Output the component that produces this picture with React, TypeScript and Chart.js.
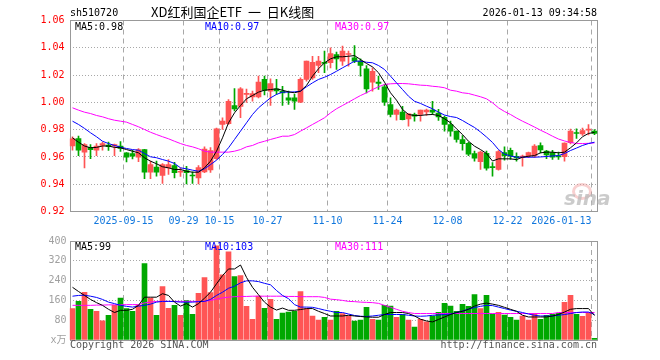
import React, { useEffect, useRef } from 'react';
import { Chart, registerables } from 'chart.js';

Chart.register(...registerables);

// ---------- data ----------
const dates = [
  '2025-09-02','2025-09-03','2025-09-04','2025-09-05','2025-09-08','2025-09-09','2025-09-10','2025-09-11','2025-09-12',
  '2025-09-15','2025-09-16','2025-09-17','2025-09-18','2025-09-19','2025-09-22','2025-09-23','2025-09-24','2025-09-25',
  '2025-09-26','2025-09-29','2025-09-30','2025-10-09','2025-10-10','2025-10-13','2025-10-14','2025-10-15','2025-10-16',
  '2025-10-17','2025-10-20','2025-10-21','2025-10-22','2025-10-23','2025-10-24','2025-10-27','2025-10-28','2025-10-29',
  '2025-10-30','2025-10-31','2025-11-03','2025-11-04','2025-11-05','2025-11-06','2025-11-07','2025-11-10','2025-11-11',
  '2025-11-12','2025-11-13','2025-11-14','2025-11-17','2025-11-18','2025-11-19','2025-11-20','2025-11-21','2025-11-24',
  '2025-11-25','2025-11-26','2025-11-27','2025-11-28','2025-12-01','2025-12-02','2025-12-03','2025-12-04','2025-12-05',
  '2025-12-08','2025-12-09','2025-12-10','2025-12-11','2025-12-12','2025-12-15','2025-12-16','2025-12-17','2025-12-18',
  '2025-12-19','2025-12-22','2025-12-23','2025-12-24','2025-12-25','2025-12-26','2025-12-29','2025-12-30','2025-12-31',
  '2026-01-05','2026-01-06','2026-01-07','2026-01-08','2026-01-09','2026-01-12','2026-01-13',
];

const tickDates = ['2025-09-15','2025-09-29','2025-10-15','2025-10-27','2025-11-10','2025-11-24','2025-12-08','2025-12-22','2026-01-13'];
const tickTexts = ['2025-09-15','09-29','10-15','10-27','11-10','11-24','12-08','12-22','2026-01-13'];

const opens = [
  0.968,0.9735,0.9635,0.9671,0.9649,0.9684,0.9686,0.968,0.9679,0.963,
  0.9625,0.9598,0.9654,0.9488,0.9525,0.9464,0.952,0.9537,0.9488,0.95,
  0.9466,0.9447,0.949,0.9504,0.9588,0.9838,0.9844,0.9977,0.997,1.0058,
  1.0039,1.0039,1.0168,1.0082,1.0099,1.008,1.0033,1.0033,1.0001,1.0168,
  1.018,1.027,1.0294,1.029,1.0351,1.0302,1.0351,1.0327,1.0302,1.0246,
  1.0148,1.0148,1.0114,0.9984,0.9911,0.9928,0.9878,0.9911,0.9911,0.9929,
  0.9944,0.9921,0.9891,0.9838,0.9789,0.9728,0.97,0.9625,0.9566,0.9627,
  0.953,0.9508,0.9632,0.9649,0.9605,0.9594,0.9607,0.9607,0.9684,0.9642,
  0.9632,0.9605,0.9601,0.9704,0.9779,0.9768,0.9797,0.9789,
];
const closes = [
  0.9733,0.9649,0.9691,0.9654,0.9679,0.9698,0.9676,0.9691,0.9662,0.9598,
  0.9605,0.9654,0.9488,0.9544,0.9488,0.9544,0.9544,0.9484,0.9495,0.9484,
  0.946,0.9522,0.9657,0.9647,0.9806,0.9862,1.0008,0.9951,1.0099,1.0065,
  1.0065,1.0148,1.0087,1.0138,1.0083,1.007,1.0016,1.0008,1.0168,1.0302,
  1.0294,1.0302,1.0285,1.0358,1.0319,1.0375,1.0358,1.0302,1.027,1.0099,
  1.0228,1.0138,1.0001,0.9911,0.9944,0.9874,0.9915,0.9899,0.9943,0.9944,
  0.9928,0.9894,0.9838,0.9789,0.9728,0.9698,0.9621,0.9591,0.9635,0.9517,
  0.9522,0.964,0.961,0.9605,0.9592,0.9607,0.9632,0.9679,0.9651,0.9614,
  0.9598,0.96,0.9701,0.9789,0.9772,0.9794,0.9803,0.9772,
];
const highs = [
  0.9748,0.9752,0.9698,0.9691,0.9698,0.9708,0.9708,0.9695,0.9713,0.9632,
  0.9649,0.9662,0.9655,0.9569,0.9569,0.9552,0.9581,0.9561,0.952,0.9532,
  0.949,0.9537,0.9674,0.9669,0.9812,0.9887,1.0021,1.0101,1.0109,1.0098,
  1.0083,1.0192,1.0192,1.0173,1.0168,1.0118,1.0082,1.0058,1.018,1.0302,
  1.0338,1.0338,1.0375,1.04,1.0368,1.0412,1.0375,1.0417,1.0319,1.027,
  1.0253,1.0192,1.0131,1.0033,0.9951,0.997,0.9918,0.9922,0.9944,0.9951,
  1.0008,0.9948,0.9899,0.9862,0.9789,0.9757,0.9708,0.9642,0.9642,0.9642,
  0.9559,0.9647,0.9674,0.9665,0.963,0.9614,0.9635,0.9691,0.9704,0.9649,
  0.9649,0.9635,0.9704,0.9805,0.9806,0.9812,0.9838,0.9801,
];
const lows = [
  0.9649,0.961,0.9519,0.9588,0.961,0.9649,0.9647,0.961,0.964,0.9563,
  0.9586,0.9566,0.944,0.944,0.9459,0.9405,0.9471,0.9447,0.9457,0.9402,
  0.9405,0.9402,0.9484,0.9486,0.9581,0.9801,0.9838,0.9937,0.9887,0.9999,
  1.0008,1.0033,1.0054,0.9977,1.0058,0.9977,0.9984,0.9948,0.9997,1.0155,
  1.0168,1.0217,1.0217,1.0253,1.0241,1.027,1.0265,1.029,1.0192,1.007,
  1.0082,1.0094,0.9977,0.9894,0.9869,0.9871,0.9825,0.9863,0.9862,0.9904,
  0.9911,0.9867,0.9789,0.9752,0.9708,0.9649,0.961,0.9569,0.9508,0.9503,
  0.9459,0.9503,0.9576,0.9581,0.9569,0.9532,0.9594,0.9596,0.963,0.9588,
  0.9581,0.9581,0.9569,0.9695,0.9735,0.9757,0.9761,0.9764,
];

const ma5 = [
  0.974,0.9708,0.968,0.9667,0.967,0.968,0.968,0.967,0.9667,0.9654,
  0.9642,0.963,0.9594,0.9569,0.955,0.9528,0.952,0.9508,0.9508,0.9495,
  0.9488,0.9488,0.952,0.9569,0.9642,0.974,0.985,0.9923,0.9977,1.0026,
  1.005,1.0075,1.0089,1.0094,1.0099,1.0089,1.0077,1.007,1.0082,1.0124,
  1.0192,1.0246,1.029,1.0319,1.0334,1.0334,1.0338,1.0343,1.0314,1.0285,
  1.026,1.0217,1.0148,1.007,1.0016,0.9948,0.9911,0.9904,0.9904,0.9909,
  0.9911,0.9904,0.988,0.985,0.9806,0.9764,0.9715,0.9679,0.9654,0.9625,
  0.957,0.9586,0.9586,0.9586,0.958,0.9598,0.9605,0.961,0.963,0.9635,
  0.9635,0.963,0.9635,0.9667,0.9703,0.9748,0.9772,0.978,
];
const ma10 = [
  0.9862,0.9838,0.9809,0.9777,0.9748,0.9715,0.9698,0.9684,0.9671,0.9662,
  0.9654,0.9649,0.9625,0.9601,0.9594,0.9581,0.9569,0.9552,0.952,0.9513,
  0.9503,0.9495,0.9513,0.9544,0.9576,0.9618,0.9667,0.9728,0.9789,0.985,
  0.9911,0.996,0.9997,1.0033,1.0058,1.0075,1.0075,1.0077,1.0082,1.0114,
  1.0143,1.0168,1.0184,1.0204,1.0228,1.0253,1.0277,1.0302,1.0302,1.0294,
  1.029,1.027,1.0241,1.0192,1.0143,1.0094,1.0045,1.0008,0.9992,0.9972,
  0.9953,0.9928,0.9907,0.9896,0.9889,0.9867,0.9841,0.9816,0.9783,0.9746,
  0.9706,0.9654,0.9621,0.9607,0.9598,0.9598,0.9598,0.9598,0.96,0.9603,
  0.9607,0.961,0.9625,0.9647,0.9665,0.9684,0.9698,0.9708,
];
const ma30 = [
  0.996,0.9943,0.9928,0.9918,0.9904,0.9894,0.988,0.9869,0.9862,0.9855,
  0.9838,0.9821,0.9801,0.9781,0.9764,0.9748,0.9733,0.9715,0.9698,0.9684,
  0.9674,0.966,0.9642,0.9635,0.9635,0.9635,0.9635,0.9642,0.9654,0.9674,
  0.9684,0.9703,0.9715,0.9728,0.974,0.9752,0.9752,0.9764,0.9789,0.9813,
  0.9838,0.9862,0.9887,0.9923,0.9953,0.9977,1.0001,1.0026,1.005,1.007,
  1.0094,1.0114,1.0131,1.0136,1.0138,1.0138,1.0136,1.0131,1.0126,1.0124,
  1.0118,1.0114,1.0107,1.0089,1.0082,1.007,1.0065,1.0053,1.0041,1.0026,
  0.9997,0.996,0.9933,0.9911,0.9885,0.9862,0.9841,0.9819,0.9796,0.9775,
  0.9752,0.9731,0.9717,0.9706,0.9698,0.9698,0.97,0.9703,
];

const volumes = [
  127,156,193,124,116,77,100,140,169,127,
  116,140,309,169,100,216,128,140,100,159,
  104,189,252,192,380,263,356,256,260,136,
  84,177,128,164,84,109,113,116,196,127,
  97,80,92,80,116,107,97,76,80,132,
  84,80,140,137,92,103,80,52,84,73,
  97,112,148,137,116,144,136,184,127,180,
  105,112,101,92,80,97,80,107,84,100,
  104,108,152,180,104,96,112,7,
];
const volMa5 = [
  213,196,180,164,151,140,124,111,120,120,
  124,140,173,173,173,187,180,153,137,147,
  133,147,169,193,227,260,287,287,303,253,
  213,183,153,133,121,129,120,120,123,127,
  127,116,107,97,97,97,100,97,95,93,
  92,92,103,111,111,111,107,97,84,77,
  73,83,93,103,111,116,124,137,145,149,
  145,140,132,124,116,100,93,93,93,93,
  97,103,113,124,127,127,127,99,
];
const volMa10 = [
  177,180,181,177,172,164,153,147,140,136,
  133,137,140,145,153,156,156,155,153,153,
  153,155,156,164,180,193,209,217,231,239,
  239,236,229,223,200,180,167,143,133,133,
  132,127,121,116,111,111,105,99,96,95,
  97,100,103,103,103,103,100,97,96,97,
  100,101,103,105,111,117,125,131,136,140,
  139,133,127,121,116,111,105,100,97,97,
  97,100,103,107,111,113,113,103,
];
const volMa30 = [
  140,140,140,140,141,141,142,142,142,143,
  143,143,150,153,156,156,156,156,156,156,
  156,156,156,160,165,170,173,175,176,176,
  177,177,177,177,177,177,176,176,175,175,
  175,175,172,165,163,160,156,155,153,152,
  151,148,140,132,124,116,111,107,107,107,
  107,107,107,107,107,107,107,107,107,107,
  107,107,107,107,107,107,107,107,107,107,
  107,111,111,111,111,111,111,111,
];

const priceMin = 0.92;
const priceMax = 1.06;
const priceStep = 0.02;
const volMin = 0;
const volMax = 400;
const volStep = 80;

// ---------- styles ----------
const UP = '#ff5555';
const DOWN = '#00a800';
const GRID = '#a8a8a8';
const FRAME = '#999999';
const DATE_BLUE = '#1177dd';
const MONO = '"DejaVu Sans Mono", "Noto Sans CJK SC", monospace';

const candleColor = (i: number) => (closes[i] >= opens[i] ? UP : DOWN);
const tickIndex = new Map<number, string>();
tickDates.forEach((d, k) => tickIndex.set(dates.indexOf(d), tickTexts[k]));

const framePlugin = {
  id: 'frame',
  beforeDatasetsDraw(chart: any) {
    const { ctx, chartArea: a } = chart;
    ctx.save();
    ctx.strokeStyle = FRAME;
    ctx.lineWidth = 1;
    ctx.setLineDash([]);
    const x1 = Math.round(a.left) + 0.5;
    const y1 = Math.floor(a.top) + 0.5;
    const x2 = Math.floor(a.right) + 0.5;
    const y2 = Math.floor(a.bottom) + 0.5;
    ctx.strokeRect(x1, y1, x2 - x1, y2 - y1);
    ctx.restore();
  },
};

const xGrid = {
  offset: true,
  drawTicks: false,
  lineWidth: 1,
  color: (c: any) => (tickIndex.has(c.index) ? GRID : 'rgba(0,0,0,0)'),
};

const lineDs = (data: number[], color: string) => ({
  type: 'line' as const,
  data,
  borderColor: color,
  backgroundColor: color,
  borderWidth: 1,
  pointRadius: 0,
  tension: 0,
  fill: false,
  order: 1,
});

export default function App() {
  const priceRef = useRef<HTMLCanvasElement>(null);
  const volRef = useRef<HTMLCanvasElement>(null);

  useEffect(() => {
    const price = new Chart(priceRef.current as HTMLCanvasElement, {
      type: 'bar',
      data: {
        labels: dates,
        datasets: [
          lineDs(ma5, '#000000'),
          lineDs(ma10, '#0000ff'),
          lineDs(ma30, '#ff00ff'),
          {
            type: 'bar',
            data: opens.map((o, i) => [o, closes[i]]),
            backgroundColor: (c: any) => candleColor(c.dataIndex),
            barThickness: 5,
            grouped: false,
            minBarLength: 1,
            borderWidth: 0,
            order: 2,
          } as any,
          {
            type: 'bar',
            data: lows.map((l, i) => [l, highs[i]]),
            backgroundColor: (c: any) => candleColor(c.dataIndex),
            barThickness: 1,
            grouped: false,
            borderWidth: 0,
            order: 3,
          } as any,
        ],
      },
      options: {
        animation: false,
        responsive: false,
        devicePixelRatio: 1,
        events: [],
        layout: { padding: { left: 0, right: 62.5, top: 20.5, bottom: 0 } },
        plugins: { legend: { display: false }, tooltip: { enabled: false }, title: { display: false } },
        scales: {
          x: {
            type: 'category',
            offset: true,
            grid: xGrid as any,
            border: { display: false, dash: [5, 4] },
            afterFit: (s: any) => { s.height = 20.5; },
            ticks: {
              autoSkip: false,
              maxRotation: 0,
              minRotation: 0,
              padding: 4,
              labelOffset: -3,
              color: DATE_BLUE,
              font: { family: MONO, size: 10 },
              callback: (v: any) => {
                const t = tickIndex.get(Number(v));
                if (!t) return '';
                return Number(v) === dates.length - 1 ? t + ' '.repeat(t.length) : t;
              },
            },
          },
          y: {
            type: 'linear',
            min: priceMin,
            max: priceMax,
            afterFit: (s: any) => { s.width = 69.5; },
            grid: { drawTicks: false, color: GRID, lineWidth: 1 },
            border: { display: false, dash: [1, 2] },
            ticks: {
              stepSize: priceStep,
              padding: 5,
              color: '#ff0000',
              font: { family: MONO, size: 10 },
              callback: (v: any) => Number(v).toFixed(2),
            },
          },
        },
      },
      plugins: [framePlugin],
    });

    const vol = new Chart(volRef.current as HTMLCanvasElement, {
      type: 'bar',
      data: {
        labels: dates,
        datasets: [
          lineDs(volMa5, '#000000'),
          lineDs(volMa10, '#0000ff'),
          lineDs(volMa30, '#ff00ff'),
          {
            type: 'bar',
            data: volumes,
            backgroundColor: (c: any) => candleColor(c.dataIndex),
            barThickness: 5,
            grouped: false,
            borderWidth: 0,
            order: 2,
          } as any,
        ],
      },
      options: {
        animation: false,
        responsive: false,
        devicePixelRatio: 1,
        events: [],
        layout: { padding: { left: 0, right: 62.5, top: 8, bottom: 0 } },
        plugins: { legend: { display: false }, tooltip: { enabled: false }, title: { display: false } },
        scales: {
          x: {
            type: 'category',
            offset: true,
            grid: xGrid as any,
            border: { display: false, dash: [5, 4] },
            afterFit: (s: any) => { s.height = 20; },
            ticks: { display: false, autoSkip: false },
          },
          y: {
            type: 'linear',
            min: volMin,
            max: volMax,
            afterFit: (s: any) => { s.width = 69.5; },
            grid: { drawTicks: false, color: GRID, lineWidth: 1 },
            border: { display: false, dash: [1, 2] },
            ticks: {
              stepSize: volStep,
              padding: 3,
              color: '#a0a0a0',
              font: { family: MONO, size: 10 },
              callback: (v: any) => (Number(v) === 0 ? 'x万' : String(v)),
            },
          },
        },
      },
      plugins: [framePlugin],
    });

    return () => {
      price.destroy();
      vol.destroy();
    };
  }, []);

  const txt = (extra: React.CSSProperties): React.CSSProperties => ({
    position: 'absolute',
    font: `10px ${MONO}`,
    lineHeight: '12px',
    whiteSpace: 'pre',
    ...extra,
  });

  return (
    <div style={{ position: 'fixed', left: 0, top: 0, width: 660, height: 360, background: '#ffffff', overflow: 'hidden' }}>
      <canvas ref={priceRef} width={660} height={232} style={{ position: 'absolute', left: 0, top: 0, width: 660, height: 232 }} />
      <canvas ref={volRef} width={660} height={128} style={{ position: 'absolute', left: 0, top: 232, width: 660, height: 128 }} />

      <div style={txt({ left: 70, top: 7, color: '#000' })}>sh510720</div>
      <div style={{ position: 'absolute', left: 151, top: 4, font: '13px "Noto Sans CJK SC", sans-serif', lineHeight: '15px', color: '#000', whiteSpace: 'pre', wordSpacing: '3px' }}>
        XD红利国企ETF 一 日K线图
      </div>
      <div style={txt({ right: 63, top: 7, color: '#000' })}>2026-01-13 09:34:58</div>

      <div style={txt({ left: 75, top: 20.5, color: '#000' })}>MA5:0.98</div>
      <div style={txt({ left: 205, top: 20.5, color: '#0000ff' })}>MA10:0.97</div>
      <div style={txt({ left: 335, top: 20.5, color: '#ff00ff' })}>MA30:0.97</div>

      <div style={{ position: 'absolute', left: 572, top: 183, width: 14, height: 11, borderRadius: '50%', border: '3px solid rgba(240,150,150,0.45)' }} />
      <div style={{ position: 'absolute', left: 564, top: 188, font: 'italic bold 20px "DejaVu Sans", sans-serif', lineHeight: '20px', color: 'rgba(185,185,185,0.75)' }}>sina</div>

      <div style={txt({ left: 75, top: 241, color: '#000' })}>MA5:99</div>
      <div style={txt({ left: 205, top: 241, color: '#0000ff' })}>MA10:103</div>
      <div style={txt({ left: 335, top: 241, color: '#ff00ff' })}>MA30:111</div>

      <div style={txt({ left: 70, top: 339, color: '#555' })}>Copyright 2026 SINA.COM</div>
      <div style={txt({ right: 63, top: 339, color: '#555' })}>http://finance.sina.com.cn</div>
    </div>
  );
}
